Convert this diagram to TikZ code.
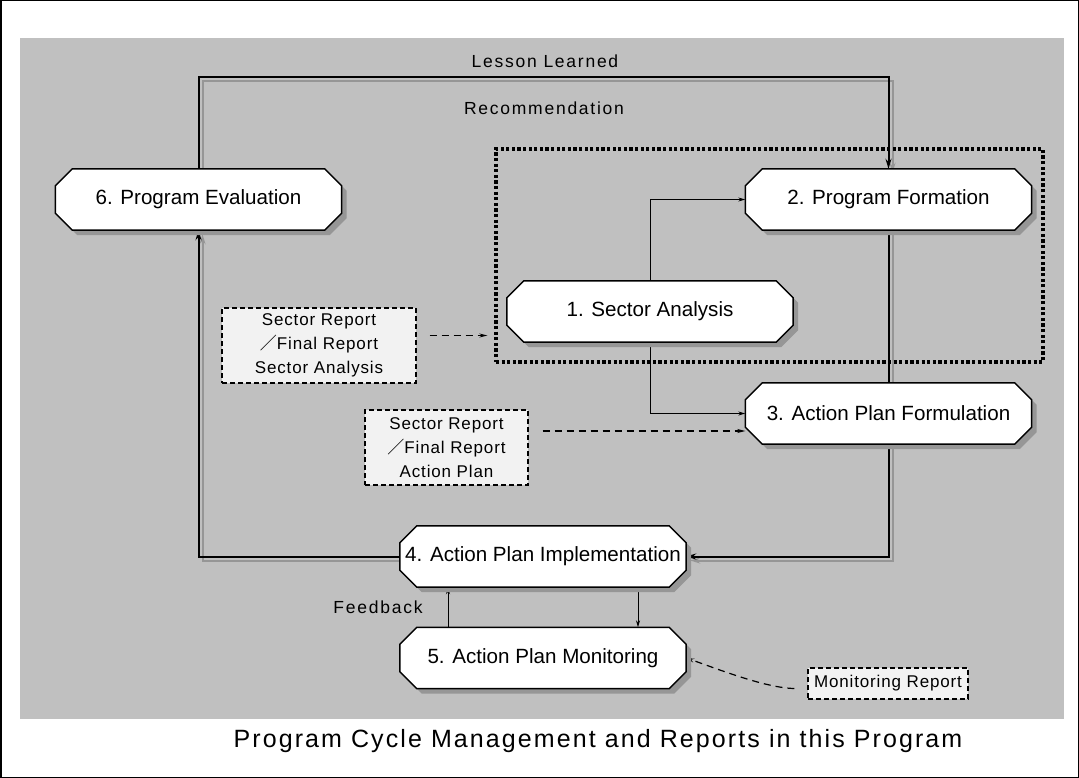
\documentclass[tikz,border=0pt]{standalone}
\usepackage{fontspec}
\setmainfont{Liberation Sans}
\newfontfamily\cjk{Noto Sans CJK JP}
\newfontfamily\lsfont[LetterSpace=10]{Liberation Sans}
\newfontfamily\titlefont[LetterSpace=8.4]{Liberation Sans}
\newfontfamily\boxfont[LetterSpace=5]{Liberation Sans}
\usetikzlibrary{arrows.meta,calc}
\definecolor{panel}{RGB}{192,192,192}
\definecolor{shade}{RGB}{150,150,150}
\definecolor{boxfill}{RGB}{242,242,242}
\pgfdeclarelayer{bg}
\pgfdeclarelayer{nodebg}
\pgfsetlayers{bg,nodebg,main}
\newcommand\octpath[1]{($(#1.north west)+(17,0)$) -- ($(#1.north east)+(-17,0)$) -- ($(#1.north east)+(0,17)$) -- ($(#1.south east)+(0,-17)$) -- ($(#1.south east)+(-17,0)$) -- ($(#1.south west)+(17,0)$) -- ($(#1.south west)+(0,-17)$) -- ($(#1.north west)+(0,17)$) -- cycle}
\begin{document}
\begin{tikzpicture}[x=1pt,y=-1pt,
  stage/.style={rectangle, minimum width=286pt, minimum height=61pt, inner sep=0pt,
    font=\fontsize{20.6}{24}\selectfont},
  octo/.style={draw=black, line width=1.5pt, fill=white},
  octoshade/.style={fill=shade},
  rbox/.style={draw=black, fill=boxfill, line width=1.2pt, dash pattern=on 5pt off 3pt,
    inner sep=0pt, align=center, font=\boxfont\fontsize{17}{24}\selectfont},
  grpbox/.style={draw=black, line width=3.2pt, dash pattern=on 3.2pt off 2.4pt, inner sep=0pt},
  lbl/.style={font=\lsfont\fontsize{17.5}{20}\selectfont, inner sep=0pt},
  thickc/.style={draw=black, line width=2pt, -{Stealth[length=10pt,width=6pt]}},
  thickshade/.style={draw=shade, line width=2pt, -{Stealth[length=10pt,width=6pt]}},
  thinc/.style={draw=black, line width=1pt, -{Stealth[length=7pt,width=4pt]}},
  dashc/.style={draw=black, line width=1.2pt, dash pattern=on 7pt off 5pt, -{Stealth[length=8pt,width=4pt]}}
]
\useasboundingbox (0,0) rectangle (1079,778);

% group box
\node[grpbox, minimum width=547pt, minimum height=213pt] (grp) at (769.5,255.5) {};

% stages
\node[stage] (n6) at (198.5,199.5) {6. Program Evaluation};
\node[stage] (n2) at (888.5,199.5) {2. Program Formation};
\node[stage] (n1) at (650,311.5) {1. Sector Analysis};
\node[stage] (n3) at (888.5,413.5) {3. Action Plan Formulation};
\node[stage] (n4) at (543,556.5) {4. Action Plan Implementation};
\node[stage] (n5) at (543,658) {5. Action Plan Monitoring};

% report boxes
\node[rbox, minimum width=194pt, minimum height=75pt] (bA) at (319,345.5)
  {Sector Report\\{\cjk ／}Final Report\\Sector Analysis};
\node[rbox, minimum width=163pt, minimum height=75pt] (bB) at (446.5,447.5)
  {Sector Report\\{\cjk ／}Final Report\\Action Plan};
\node[rbox, minimum width=160pt, minimum height=31pt] (bC) at (888,683.5)
  {Monitoring Report};

% labels
\node[lbl] (lesson) at (545,61) {Lesson Learned};
\node[lbl] (recom) at (544,108) {Recommendation};
\node[lbl] (feed) at (378,607) {Feedback};
\node[font=\titlefont\fontsize{25}{30}\selectfont, inner sep=0pt] (title) at (598,741)
  {Program Cycle Management and Reports in this Program};

\coordinate (toprow) at (540,77);
\coordinate (a1) at ($(bA.east)+(13,-10)$);
\coordinate (a2) at ($(bB.east)+(14,-16.5)$);
\coordinate (a3) at ($(bC.west)+(-13,5)$);

% octagon outlines and shadows
\begin{pgfonlayer}{nodebg}
  \foreach \n in {n6,n2,n1,n3,n4,n5}{
    \begin{scope}[transform canvas={xshift=5pt,yshift=-5pt}]
      \fill[octoshade] \octpath{\n};
    \end{scope}
    \draw[octo] \octpath{\n};
  }
\end{pgfonlayer}

\begin{pgfonlayer}{bg}
  \fill[panel] (20,38) rectangle (1064,719);
  % shaded thick loops
  \begin{scope}[transform canvas={xshift=4pt,yshift=-4pt}]
    \draw[thickshade] (n6.north) |- (toprow) -| (n2.north);
    \draw[thickshade] (n2.south) |- (n4.east);
    \draw[thickshade] (n4.west) -| (n6.south);
  \end{scope}
  \draw[thickc] (n6.north) |- (toprow) -| (n2.north);
  \draw[thickc] (n2.south) |- (n4.east);
  \draw[thickc] (n4.west) -| (n6.south);
  % thin connectors
  \draw[thinc] (n1.north) |- (n2.west);
  \draw[thinc] (n1.south) |- (n3.west);
  \draw[thinc] ($(n5.north)+(-95,0)$) -- ($(n4.south)+(-95,0)$);
  \draw[thinc] ($(n4.south)+(95,0)$) -- ($(n5.north)+(95,0)$);
  % dashed report arrows
  \draw[dashc, shorten >=7pt] (a1) -- (a1 -| grp.west);
  \draw[dashc] (a2) -- (a2 -| n3.west);
  \draw[dashc] (a3) .. controls (765,688) and (715,668) .. (n5.east);
\end{pgfonlayer}

\draw[line width=1.5pt] (0.75,0.75) rectangle (1078.25,777.25);
\end{tikzpicture}
\end{document}
